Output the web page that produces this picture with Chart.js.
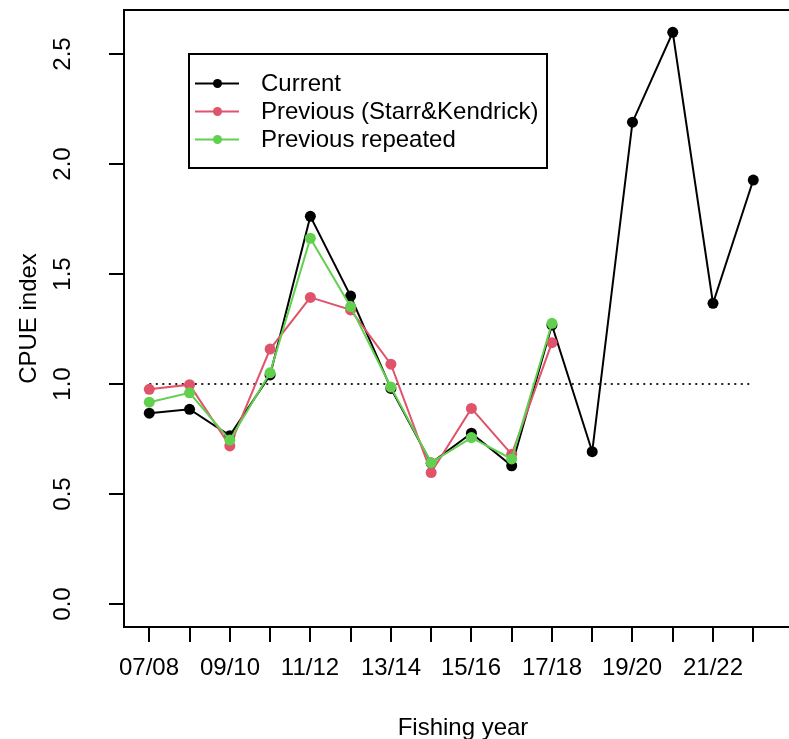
<!DOCTYPE html>
<html>
<head>
<meta charset="utf-8">
<script src="https://cdn.jsdelivr.net/npm/chart.js@4/dist/chart.umd.min.js"></script>
<style>
  html, body { margin: 0; padding: 0; background: #fff; }
  #wrap { width: 789px; height: 739px; }
</style>
</head>
<body>
<div id="wrap"><canvas id="cpue" width="789" height="739"></canvas></div>
<script>
// Fishing years (x categories)
const years = ['07/08', '08/09', '09/10', '10/11', '11/12', '12/13', '13/14', '14/15',
               '15/16', '16/17', '17/18', '18/19', '19/20', '20/21', '21/22', '22/23'];

// CPUE index series
const current = [0.867, 0.885, 0.765, 1.041, 1.763, 1.400, 0.980, 0.640,
                 0.776, 0.628, 1.268, 0.692, 2.191, 2.600, 1.367, 1.928];
const previous = [0.976, 0.997, 0.718, 1.159, 1.394, 1.337, 1.090, 0.597,
                  0.889, 0.680, 1.188];
const repeated = [0.917, 0.960, 0.745, 1.051, 1.663, 1.352, 0.986, 0.642,
                  0.756, 0.659, 1.276];

// Axis ticks
const yTicks = [0, 0.5, 1.0, 1.5, 2.0, 2.5];
const xLabelEvery = 2; // R drops overlapping labels: only every other year shown

const refLevel = 1.0;

const FONT = '24px "Liberation Sans", Arial, sans-serif';

function toPoints(arr) {
    return arr.map((v, i) => ({ x: i + 1, y: v }));
}

// Draw R-style box, axes and titles
const rAxes = {
    id: 'rAxes',
    afterDatasetsDraw(chart) {
        const ctx = chart.ctx;
        const area = chart.chartArea;
        const xs = chart.scales.x;
        const ys = chart.scales.y;
        ctx.save();
        ctx.strokeStyle = '#000';
        ctx.fillStyle = '#000';
        ctx.lineWidth = 2;

        // box (right side falls outside the picture)
        ctx.beginPath();
        ctx.moveTo(area.right + 5, area.top);
        ctx.lineTo(area.left, area.top);
        ctx.lineTo(area.left, area.bottom);
        ctx.lineTo(area.right + 5, area.bottom);
        ctx.stroke();

        ctx.font = FONT;

        // y axis ticks + rotated labels
        yTicks.forEach(v => {
            const py = Math.round(ys.getPixelForValue(v));
            ctx.beginPath();
            ctx.moveTo(area.left - 15, py);
            ctx.lineTo(area.left, py);
            ctx.stroke();
            ctx.save();
            ctx.translate(63.5, py);
            ctx.rotate(-Math.PI / 2);
            ctx.textAlign = 'center';
            ctx.textBaseline = 'middle';
            ctx.fillText(v.toFixed(1), 0, 0);
            ctx.restore();
        });

        // x axis ticks + labels
        years.forEach((lab, i) => {
            const px = Math.round(xs.getPixelForValue(i + 1));
            ctx.beginPath();
            ctx.moveTo(px, area.bottom);
            ctx.lineTo(px, area.bottom + 15);
            ctx.stroke();
            if (i % xLabelEvery === 0) {
                ctx.textAlign = 'center';
                ctx.textBaseline = 'middle';
                ctx.fillText(lab, px, 668);
            }
        });

        // axis titles
        ctx.textAlign = 'center';
        ctx.textBaseline = 'alphabetic';
        ctx.fillText('Fishing year', 463, 735);

        ctx.save();
        ctx.translate(29.5, (area.top + area.bottom) / 2);
        ctx.rotate(-Math.PI / 2);
        ctx.textBaseline = 'middle';
        ctx.fillText('CPUE index', 0, 0);
        ctx.restore();

        ctx.restore();
    },
    afterDraw(chart) {
        // legend box
        const ctx = chart.ctx;
        const items = chart.data.datasets.filter(d => d.inLegend);
        ctx.save();
        ctx.fillStyle = '#fff';
        ctx.fillRect(189, 54, 358, 114);
        ctx.strokeStyle = '#000';
        ctx.lineWidth = 2;
        ctx.strokeRect(189, 54, 358, 114);
        ctx.font = FONT;
        ctx.textBaseline = 'middle';
        ctx.textAlign = 'left';
        items.forEach((d, i) => {
            const y = 83.5 + i * 28;
            ctx.strokeStyle = d.borderColor;
            ctx.lineWidth = 2;
            ctx.beginPath();
            ctx.moveTo(195, y);
            ctx.lineTo(239, y);
            ctx.stroke();
            ctx.fillStyle = d.pointBackgroundColor;
            ctx.beginPath();
            ctx.arc(217.5, y, 4.5, 0, Math.PI * 2);
            ctx.fill();
            ctx.fillStyle = '#000';
            ctx.fillText(d.label, 261, y + 1);
        });
        ctx.restore();
    }
};

const bgPlugin = {
    id: 'bg',
    beforeDraw(chart) {
        const ctx = chart.ctx;
        ctx.save();
        ctx.fillStyle = '#fff';
        ctx.fillRect(0, 0, chart.width, chart.height);
        ctx.restore();
    }
};

function series(label, arr, color, order) {
    return {
        label: label,
        data: toPoints(arr),
        borderColor: color,
        backgroundColor: color,
        pointBackgroundColor: color,
        pointBorderColor: color,
        pointRadius: 5.5,
        pointBorderWidth: 0,
        borderWidth: 2,
        tension: 0,
        order: order,
        inLegend: true
    };
}

new Chart(document.getElementById('cpue'), {
    type: 'line',
    data: {
        datasets: [
            {
                label: 'ref',
                data: [{ x: 1, y: refLevel }, { x: years.length, y: refLevel }],
                borderColor: '#222',
                borderWidth: 2,
                borderDash: [2, 4.5],
                pointRadius: 0,
                order: 3,
                inLegend: false
            },
            series('Current', current, '#000000', 2),
            series('Previous (Starr&Kendrick)', previous, '#DF536B', 1),
            series('Previous repeated', repeated, '#61D04F', 0)
        ]
    },
    options: {
        responsive: false,
        devicePixelRatio: 1,
        animation: false,
        layout: { autoPadding: false, padding: { left: 124, top: 10, right: 0, bottom: 112 } },
        plugins: {
            legend: { display: false },
            tooltip: { enabled: false }
        },
        scales: {
            x: { type: 'linear', display: false, min: 0.372, max: 16.887 },
            y: { type: 'linear', display: false, min: -0.1056, max: 2.7015 }
        }
    },
    plugins: [bgPlugin, rAxes]
});
</script>
</body>
</html>
